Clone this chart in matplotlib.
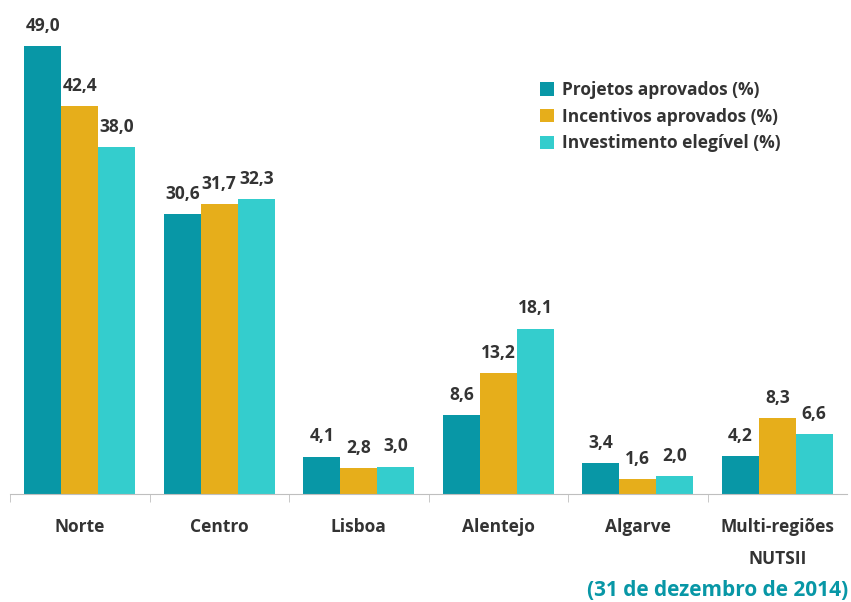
import matplotlib
matplotlib.use("Agg")
import matplotlib.pyplot as plt
import numpy as np

categories = ["Norte", "Centro", "Lisboa", "Alentejo", "Algarve", "Multi-regiões\nNUTSII"]
series_names = ["Projetos aprovados (%)", "Incentivos aprovados (%)", "Investimento elegível (%)"]
projetos = [49.0, 30.6, 4.1, 8.6, 3.4, 4.2]
incentivos = [42.4, 31.7, 2.8, 13.2, 1.6, 8.3]
investimento = [38.0, 32.3, 3.0, 18.1, 2.0, 6.6]
colors = ["#0897A6", "#E6AE1B", "#34CDCD"]
note = "(31 de dezembro de 2014)"

plt.rcParams['font.family'] = ['Open Sans', 'DejaVu Sans']
W, H = 851, 602
fig = plt.figure(figsize=(W / 100, H / 100), dpi=100)
ax = fig.add_axes([10 / W, (H - 494) / H, 837 / W, 494 / H])

x = np.arange(len(categories))
bw = 0.265
text_col = "#333333"
for i, (vals, c, name) in enumerate(zip([projetos, incentivos, investimento], colors, series_names)):
    pos = x + (i - 1) * bw
    ax.bar(pos, vals, width=bw, color=c, label=name, linewidth=0)
    for xp, v in zip(pos, vals):
        ax.annotate(f"{v:.1f}".replace(".", ","), (xp, v), xytext=(0, 8),
                    textcoords="offset points", ha="center", va="bottom",
                    fontsize=12.5, fontweight="bold", color=text_col)

ax.set_xlim(-0.5, len(categories) - 0.5)
ax.set_ylim(0, 54.05)
for s in ["top", "right", "left"]:
    ax.spines[s].set_visible(False)
ax.spines["bottom"].set_color("#BFBFBF")
ax.set_yticks([])
ax.set_xticks(x)
ax.set_xticklabels(categories, fontsize=12.5, fontweight="bold", color=text_col, linespacing=2.0)
ax.tick_params(axis="x", which="major", length=0, pad=17)
ax.set_xticks(np.arange(-0.5, len(categories) - 0.5, 1), minor=True)
ax.tick_params(axis="x", which="minor", length=6, color="#BFBFBF", direction="out")

leg = ax.legend(loc="upper left", bbox_to_anchor=(540 / W, 1 - 81 / H), bbox_transform=fig.transFigure,
                frameon=False, handlelength=0.8, handleheight=0.8, handletextpad=0.45,
                labelspacing=0.5, prop={"weight": "bold", "size": 12.5}, borderaxespad=0, borderpad=0)
for t in leg.get_texts():
    t.set_color(text_col)

fig.text(848 / W, 1 - 590 / H, note, ha="right", va="center", fontsize=15,
         fontweight="bold", color="#0897A6")

fig.savefig("out.png", dpi=100)
